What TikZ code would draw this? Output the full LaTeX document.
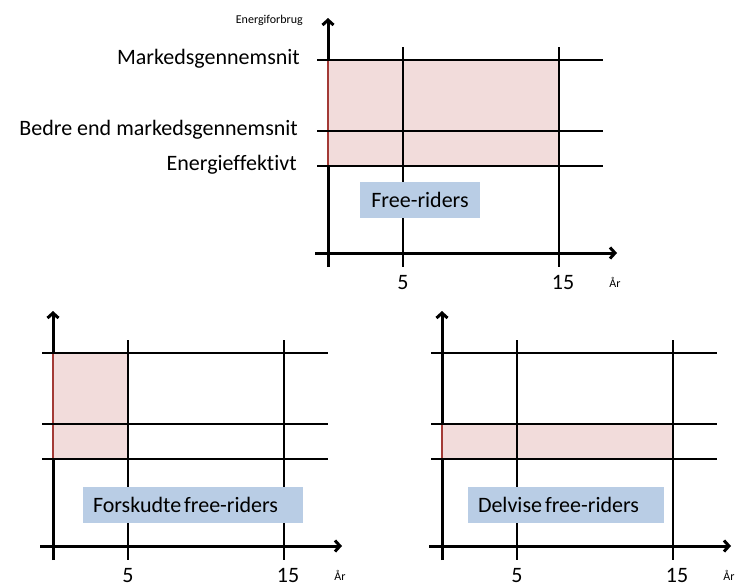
\documentclass[tikz,border=0pt]{standalone}
\usepackage{fontspec}
\setmainfont{Carlito}[Ligatures={NoCommon}]
\usetikzlibrary{arrows.meta}
\definecolor{pinkfill}{HTML}{F2DCDB}
\definecolor{pinkedge}{HTML}{A33A36}
\definecolor{boxblue}{HTML}{B9CDE5}
\tikzset{
  axisline/.style={line width=3pt, -{Straight Barb[length=5pt,width=11pt]}},
  gridline/.style={line width=1.8pt},
  region/.style={fill=pinkfill, draw=pinkedge, line width=2.4pt},
  labelbox/.style={fill=boxblue, inner ysep=0pt, inner xsep=10pt, minimum height=36pt, font=\fontsize{22}{26}\selectfont},
  bigtext/.style={inner sep=0pt, font=\fontsize{22}{26}\selectfont},
  smalltext/.style={inner sep=0pt, font=\fontsize{12}{14}\selectfont},
}
\newcommand{\myaxes}[1]{%
  \coordinate (#1yb) at (0,14);
  \coordinate (#1yt) at (0,-235);
  \coordinate (#1xl) at (-13,0);
  \coordinate (#1xr) at (289,0);
  \draw[axisline] (#1yb) -- (#1yt);
  \draw[axisline] (#1xl) -- (#1xr);
}
\newcommand{\mygrid}[1]{%
  \foreach \yy/\nn in {-193/a,-122/b,-87/c} {
    \coordinate (#1h\nn l) at (-11,\yy);
    \coordinate (#1h\nn r) at (275,\yy);
    \draw[gridline] (#1h\nn l) -- (#1h\nn r);
  }
  \foreach \xx/\nn in {75/a,231/b} {
    \coordinate (#1v\nn t) at (\xx,-206);
    \coordinate (#1v\nn b) at (\xx,14);
    \draw[gridline] (#1v\nn t) -- (#1v\nn b);
  }
  \node[bigtext, anchor=base] (#1five) at (75,36.5) {5};
  \node[bigtext, anchor=base] (#1fifteen) at (235,36.5) {15};
  \node[smalltext, anchor=base] (#1yr) at (287,34) {År};
}
\begin{document}
\begin{tikzpicture}[x=1pt,y=-1pt]
\useasboundingbox[fill=white] (0,0) rectangle (736,587);

% ---------- top chart ----------
\begin{scope}[shift={(328,253)}]
  \myaxes{T}
  \coordinate (Tr1) at (0,-193);
  \coordinate (Tr2) at (231,-87);
  \draw[region] (Tr1) rectangle (Tr2);
  \mygrid{T}
  \node[labelbox, minimum width=120pt] (Tbox) at (92,-53) {Free-riders};
\end{scope}
\node[smalltext, anchor=base east] (ylab) at (303,23) {Energiforbrug};
\node[bigtext, anchor=base east] (lab1) at (300,64) {Markedsgennemsnit};
\node[bigtext, anchor=base east] (lab2) at (298,135) {Bedre end markedsgennemsnit};
\node[bigtext, anchor=base east] (lab3) at (297,170) {Energieffektivt};

% ---------- bottom left chart ----------
\begin{scope}[shift={(53,546)}]
  \myaxes{L}
  \coordinate (Lr1) at (0,-193);
  \coordinate (Lr2) at (75,-87);
  \draw[region] (Lr1) rectangle (Lr2);
  \mygrid{L}
  \node[labelbox, text width=200pt, align=left] (Lbox) at (140,-41) {Forskudte\kern3pt free-riders};
\end{scope}

% ---------- bottom right chart ----------
\begin{scope}[shift={(442,546)}]
  \myaxes{R}
  \coordinate (Rr1) at (0,-122);
  \coordinate (Rr2) at (231,-87);
  \draw[region] (Rr1) rectangle (Rr2);
  \mygrid{R}
  \node[labelbox, text width=176pt, align=left] (Rbox) at (124,-41) {Delvise\kern3pt free-riders};
\end{scope}
\end{tikzpicture}
\end{document}
